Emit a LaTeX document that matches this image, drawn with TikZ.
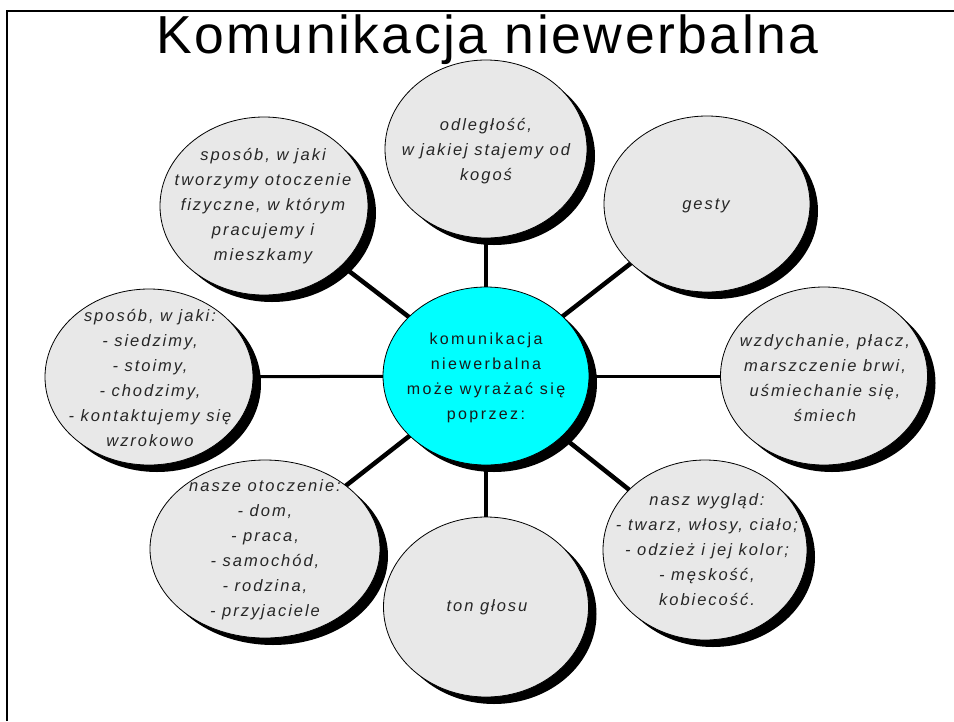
\documentclass[tikz,border=0pt]{standalone}
\usepackage{fontspec}
\setmainfont{Liberation Sans}
\newfontfamily\bubblefont[LetterSpace=12]{Liberation Sans}
\newfontfamily\hubfont[LetterSpace=15]{Liberation Sans}
\newfontfamily\titlefont[LetterSpace=4.7]{Liberation Sans}
\usetikzlibrary{shapes.geometric,shadows}
\definecolor{bubblegray}{HTML}{E8E8E8}
\definecolor{hubcyan}{HTML}{00FFFF}
\pgfdeclarelayer{background}
\pgfsetlayers{background,main}
\tikzset{
  bubble/.style={ellipse, draw=black, line width=0.8pt, fill=bubblegray, inner sep=0pt,
    drop shadow={shadow xshift=8pt, shadow yshift=-7pt, opacity=1, fill=black}},
  hub/.style={bubble, fill=hubcyan},
  bubbletext/.style={align=center, inner sep=0pt, text=black!85,
    font=\bubblefont\itshape\fontsize{16.5}{25}\selectfont},
  hubtext/.style={align=center, inner sep=0pt, text=black!90,
    font=\hubfont\fontsize{16}{25}\selectfont},
  linkdiag/.style={line width=4.5pt, black},
  linkvert/.style={line width=4pt, black},
  linkhor/.style={line width=3pt, black},
  frameline/.style={line width=2.6pt, black}
}
\begin{document}
\begin{tikzpicture}[x=1pt, y=-1pt]
\useasboundingbox (0,0) rectangle (954,721);
% frame
\draw[frameline] (7,721) -- (7,11) -- (954,11);
% title
\node[anchor=base, inner sep=0pt, font=\titlefont\fontsize{53.5}{60}\selectfont] (title) at (487.5,53) {Komunikacja niewerbalna};
% hub
\node[hub, minimum width=206pt, minimum height=178pt] (hub) at (486,376) {};
\node[hubtext] (hubt) at (486,378) {komunikacja\\niewerbalna\\może wyrażać się\\poprzez:};
% bubbles
\node[bubble, minimum width=202pt, minimum height=178pt] (dist) at (486,149) {};
\node[bubbletext] (distt) at (486,151) {odległość,\\w jakiej stajemy od\\kogoś};

\node[bubble, minimum width=206pt, minimum height=176pt] (gest) at (707,204) {};
\node[bubbletext] (gestt) at (706,206) {gesty};

\node[bubble, minimum width=208pt, minimum height=178pt] (env) at (264,206) {};
\node[bubbletext] (envt) at (263,206) {sposób, w jaki\\tworzymy otoczenie\\fizyczne, w którym\\pracujemy i\\mieszkamy};

\node[bubble, minimum width=208pt, minimum height=176pt] (pose) at (149,377) {};
\node[bubbletext] (poset) at (150,378) {sposób, w jaki:\\- siedzimy,\\- stoimy,\\- chodzimy,\\- kontaktujemy się\\wzrokowo};

\node[bubble, minimum width=207pt, minimum height=178pt] (emo) at (824,376) {};
\node[bubbletext] (emot) at (825,378) {wzdychanie, płacz,\\marszczenie brwi,\\uśmiechanie się,\\śmiech};

\node[bubble, minimum width=230pt, minimum height=178pt] (surr) at (265,549) {};
\node[bubbletext] (surrt) at (265,550) {nasze otoczenie:\\- dom,\\- praca,\\- samochód,\\- rodzina,\\- przyjaciele};

\node[bubble, minimum width=205pt, minimum height=180pt] (tone) at (486,607) {};
\node[bubbletext] (tonet) at (487,607) {ton głosu};

\node[bubble, minimum width=204pt, minimum height=180pt] (look) at (705,550) {};
\node[bubbletext] (lookt) at (707,550) {nasz wygląd:\\- twarz, włosy, ciało;\\- odzież i jej kolor;\\- męskość,\\kobiecość.};
% connectors
\begin{pgfonlayer}{background}
\draw[linkvert] (hub.center) -- (dist.center);
\draw[linkvert] (hub.center) -- (tone.center);
\draw[linkdiag] (hub.center) -- (gest.center);
\draw[linkdiag] (hub.center) -- (env.center);
\draw[linkdiag] (hub.center) -- (surr.center);
\draw[linkdiag] (hub.center) -- (look.center);
\draw[linkhor] (hub.center) -- (pose.center);
\draw[linkhor] (hub.center) -- (emo.center);
\end{pgfonlayer}
\end{tikzpicture}
\end{document}
